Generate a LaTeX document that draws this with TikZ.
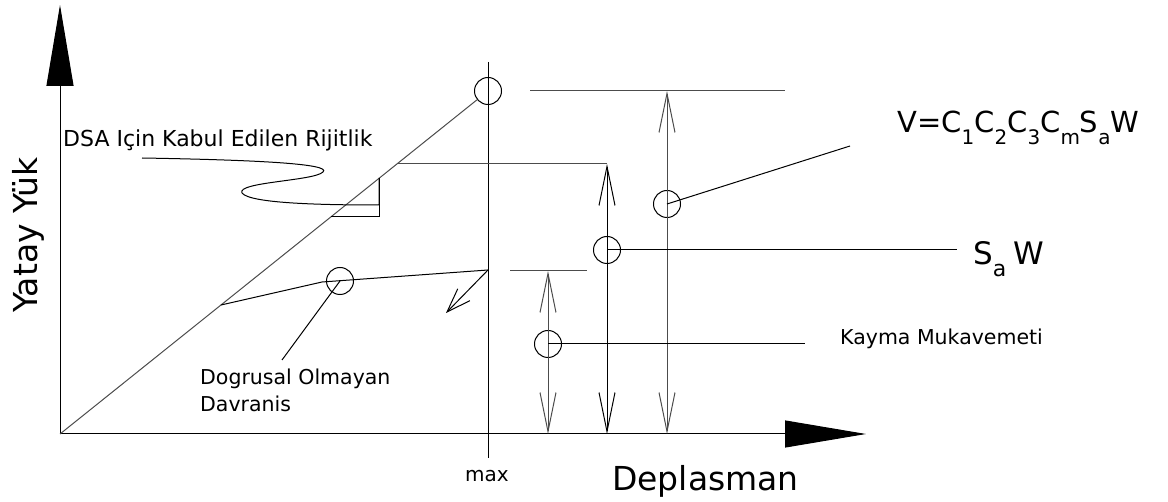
\documentclass[tikz,border=0pt]{standalone}
\usepackage{fontspec}
\setmainfont{DejaVu Sans}
\usetikzlibrary{arrows.meta}
\newcommand\mysub[2]{\raisebox{-#2}{\fontsize{20}{20}\selectfont #1}}
\begin{document}
\begin{tikzpicture}[x=1pt,y=-1pt,
  ln/.style={line width=1pt, black},
  gln/.style={line width=1pt, black!70},
  circ/.style={circle, draw, line width=1pt, minimum size=27pt, inner sep=0pt},
  dimarrow/.style={line width=1pt, {Straight Barb[length=39pt,width=16pt]}-{Straight Barb[length=39pt,width=16pt]}},
  axisarrow/.style={line width=1pt, -{Triangle[length=81pt,width=27pt]}},
  lbl/.style={inner sep=0pt, anchor=base west}
]
\useasboundingbox (0,0) rectangle (1168,502);
% coordinates
\coordinate (O) at (60,434);
\coordinate (Ytip) at (60,5);
\coordinate (Xtip) at (866,434);
\coordinate (Mtop) at (488,62);
\coordinate (Mbot) at (488,458);
\coordinate (T1a) at (530,91);
\coordinate (T1b) at (785,91);
\coordinate (a1t) at (667,91);
\coordinate (a1b) at (667,434);
\coordinate (L2) at (850,146);
\coordinate (H2a) at (398,164);
\coordinate (H2b) at (607,164);
\coordinate (a2b) at (607,434);
\coordinate (L3) at (957,250);
\coordinate (H3a) at (510,271);
\coordinate (H3b) at (587,271);
\coordinate (a3t) at (548,271);
\coordinate (a3b) at (548,434);
\coordinate (L4) at (805,344);
\coordinate (N1) at (221,305);
\coordinate (N2) at (322,282);
\coordinate (N3) at (488,270);
\coordinate (L5) at (282,360);
\coordinate (AT) at (446,313);
\coordinate (R1) at (379,178);
\coordinate (R2) at (379,217);
\coordinate (R3) at (331,217);
\coordinate (R4) at (379,205);
\coordinate (S0) at (142,158);
\coordinate (S1) at (323,172);
\coordinate (S2) at (242,193);
% circles
\node[circ] (c1) at (488,91) {};
\node[circ] (c2) at (667,204) {};
\node[circ] (c3) at (607,250) {};
\node[circ] (c4) at (548,344) {};
\node[circ] (c5) at (340,281) {};
% axes
\draw[axisarrow] (O) -- (Ytip);
\draw[axisarrow] (O) -- (Xtip);
\draw[ln] (Mtop) -- (Mbot);
% elastic line
\draw[gln] (O) -- (c1);
% top level
\draw[gln] (T1a) -- (T1b);
\draw[dimarrow, black!70] (a1t) -- (a1b);
\draw[ln] (c2.center) -- (L2);
% second level
\draw[gln] (H2a) -- (H2b);
\draw[dimarrow] (H2b) -- (a2b);
\draw[ln] (c3.center) -- (L3);
% third level
\draw[gln] (H3a) -- (H3b);
\draw[dimarrow, black!70] (a3t) -- (a3b);
\draw[ln] (c4.center) -- (L4);
% nonlinear curve
\draw[ln] (N1) -- (N2) -- (N3);
\draw[ln] (c5.center) -- (L5);
\draw[ln, -{Straight Barb[length=24pt,width=17pt]}] (N3) -- (AT);
% rigidity triangle
\draw[ln] (R1) -- (R2) -- (R3);
\draw[ln] (S0) .. controls (260,160) and (332,164) .. (S1)
  .. controls (314,181) and (236,182) .. (S2)
  .. controls (250,204) and (330,205) .. (R4) -- (R1);
% labels
\node[inner sep=0pt, anchor=base, rotate=90, font=\fontsize{33}{40}\selectfont] (ylab) at (37,235) {Yatay Yük};
\node[lbl, font=\fontsize{33}{40}\selectfont] (xlab) at (612,491) {Deplasman};
\node[inner sep=0pt, anchor=base, font=\fontsize{20}{24}\selectfont] (maxlab) at (487,482) {max};
\node[lbl, font=\fontsize{22}{26}\selectfont] (dsa) at (63,147) {DSA Için Kabul Edilen Rijitlik};
\node[inner sep=0pt, anchor=north west, align=left, font=\fontsize{20.5}{27}\selectfont] (dog) at (200,369) {Dogrusal Olmayan\\Davranis};
\node[lbl, font=\fontsize{20.5}{25}\selectfont] (kay) at (840,345) {Kayma Mukavemeti};
\node[lbl, font=\fontsize{29}{34}\selectfont] (vf) at (897,133) {V=C\mysub{1}{12pt}C\mysub{2}{12pt}C\mysub{3}{12pt}C\mysub{m}{12pt}S\mysub{a}{12pt}W};
\node[lbl, font=\fontsize{31}{36}\selectfont] (saw) at (973,265) {S\raisebox{-12pt}{\fontsize{22}{22}\selectfont a}\hspace{7pt}W};
\end{tikzpicture}
\end{document}
